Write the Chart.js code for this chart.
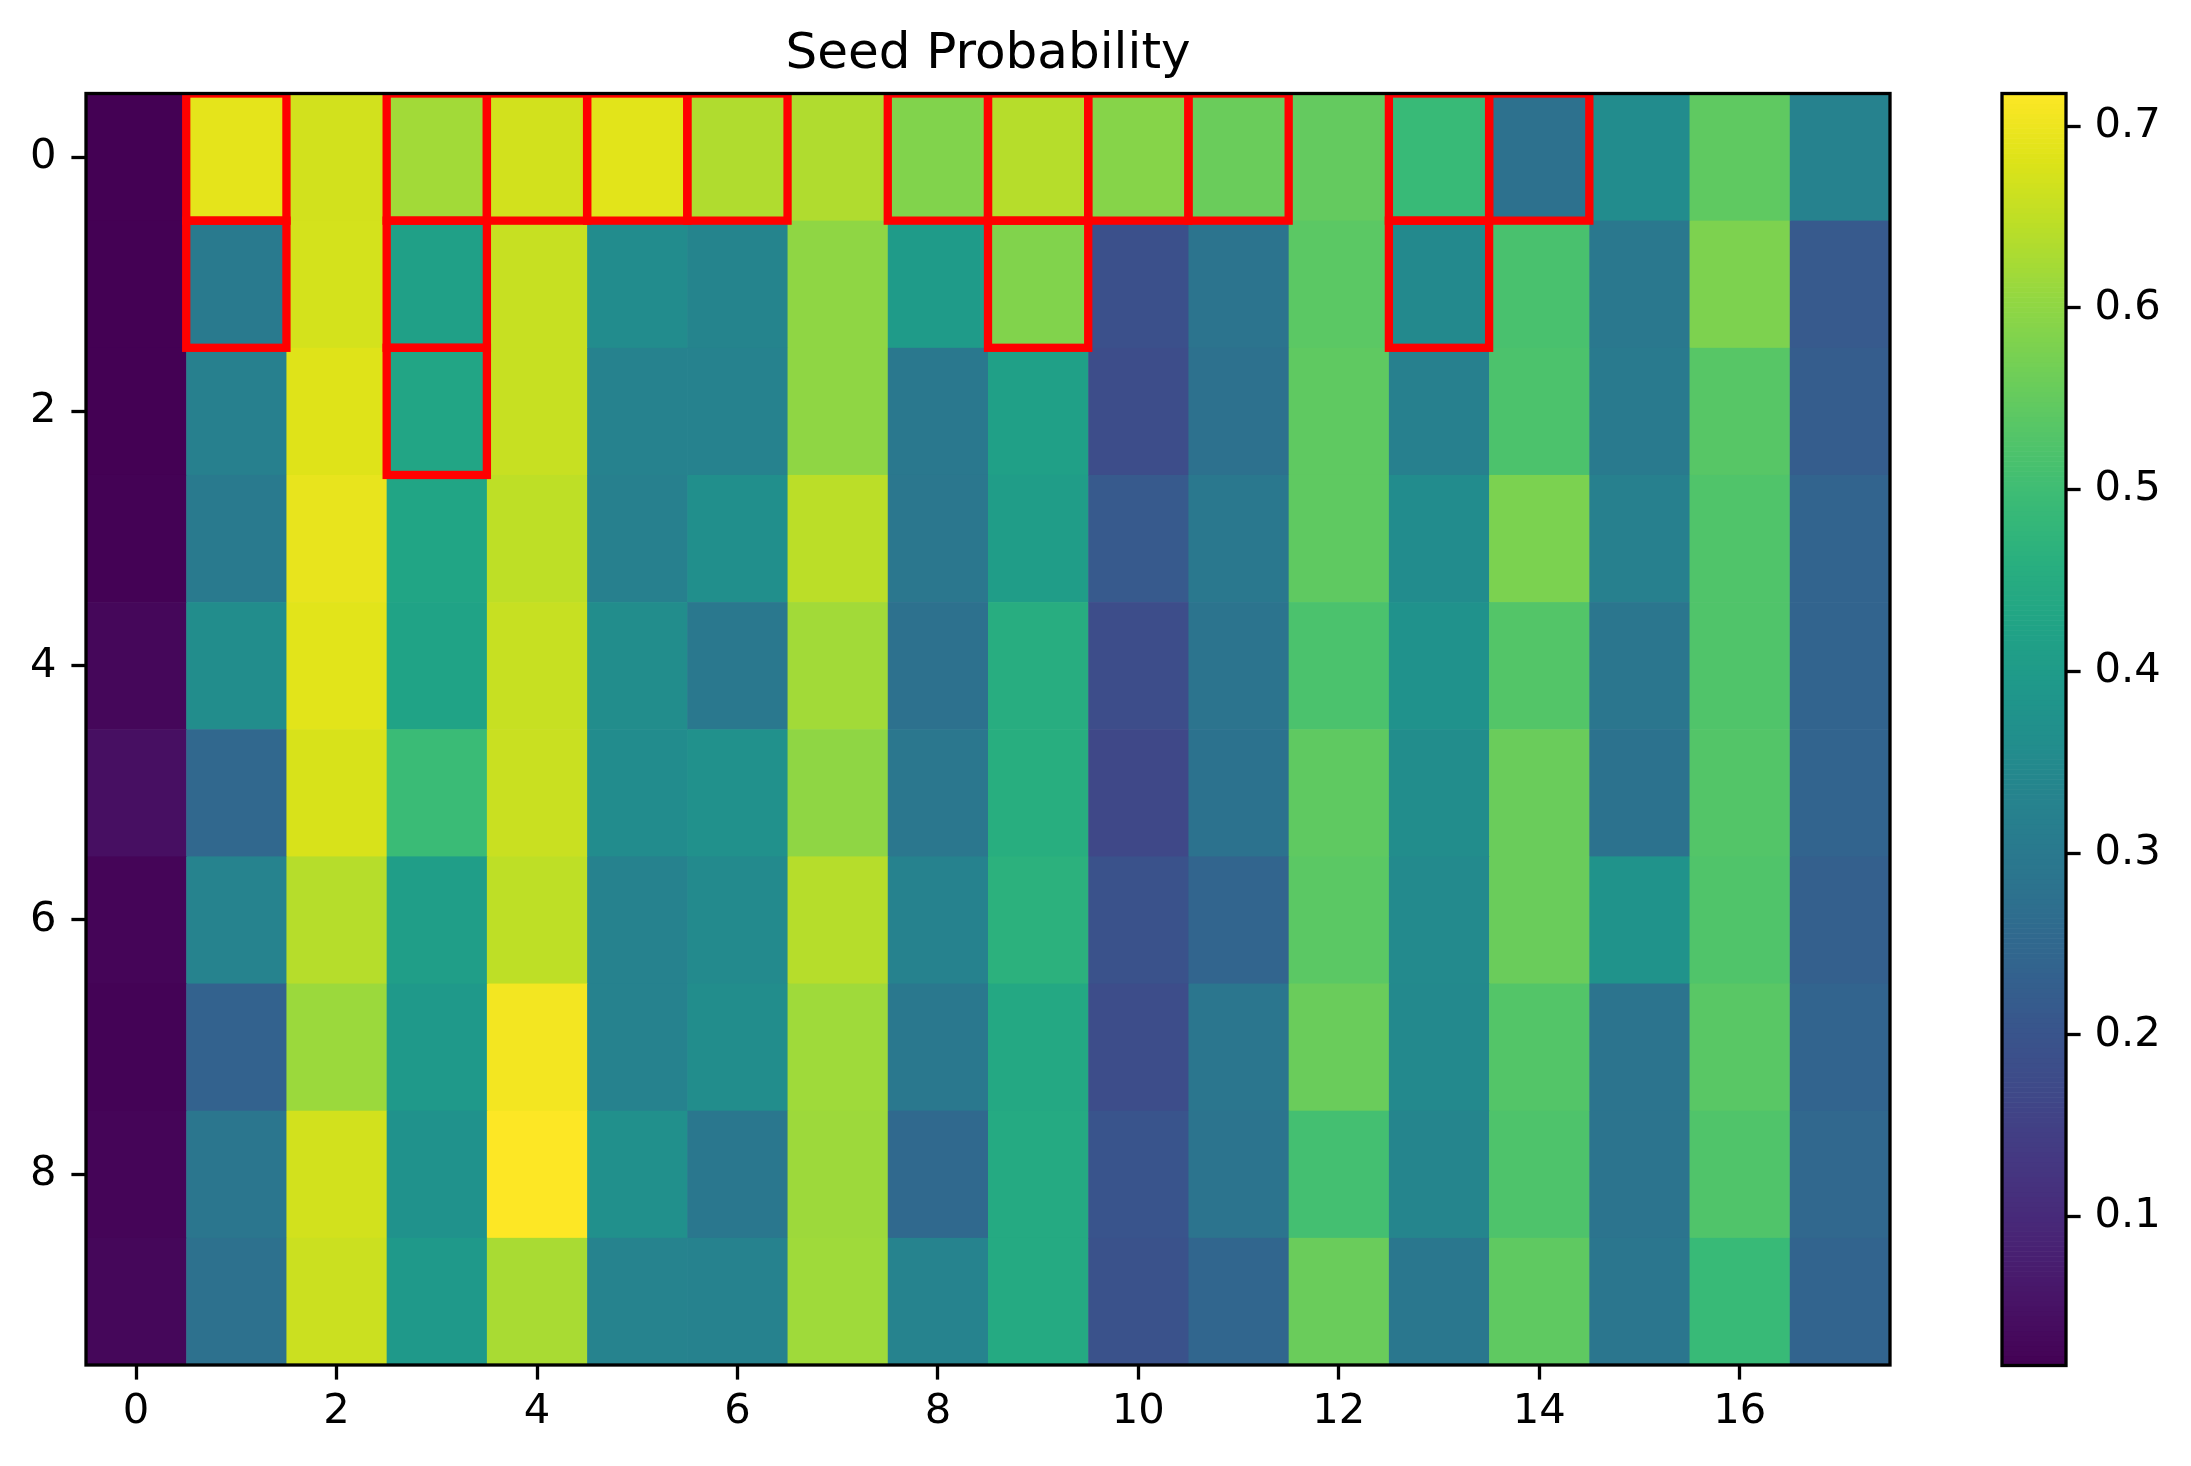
<!DOCTYPE html>
<html>
<head>
<meta charset="utf-8">
<title>Seed Probability</title>
<script src="https://cdn.jsdelivr.net/npm/chart.js@4.4.1/dist/chart.umd.min.js"></script>
<style>
  html, body { margin: 0; padding: 0; background: #fff; }
  #wrap { position: relative; width: 2191px; height: 1466px; }
  #mainBox { position: absolute; left: 0; top: 0; width: 1976px; height: 1466px; }
  #cbarBox { position: absolute; left: 1990px; top: 0; width: 201px; height: 1466px; }
</style>
</head>
<body>
<div id="wrap">
  <div id="mainBox"><canvas id="heatmap"></canvas></div>
  <div id="cbarBox"><canvas id="colorbar"></canvas></div>
</div>
<script>
// valores (linhas 0..9, colunas 0..17)
const seedProb = [
  [0.018, 0.690, 0.670, 0.620, 0.670, 0.687, 0.634, 0.634, 0.585, 0.640, 0.590, 0.557, 0.550, 0.490, 0.277, 0.355, 0.545, 0.326],
  [0.018, 0.305, 0.672, 0.414, 0.658, 0.357, 0.333, 0.600, 0.400, 0.585, 0.190, 0.284, 0.540, 0.347, 0.515, 0.298, 0.580, 0.214],
  [0.018, 0.320, 0.683, 0.430, 0.658, 0.326, 0.326, 0.600, 0.298, 0.414, 0.180, 0.277, 0.545, 0.320, 0.520, 0.305, 0.535, 0.222],
  [0.020, 0.305, 0.694, 0.428, 0.648, 0.320, 0.365, 0.645, 0.294, 0.407, 0.214, 0.298, 0.545, 0.357, 0.578, 0.322, 0.525, 0.240],
  [0.030, 0.360, 0.687, 0.424, 0.658, 0.360, 0.298, 0.620, 0.277, 0.455, 0.180, 0.284, 0.518, 0.375, 0.530, 0.290, 0.525, 0.238],
  [0.045, 0.250, 0.676, 0.494, 0.660, 0.357, 0.370, 0.600, 0.294, 0.458, 0.168, 0.280, 0.545, 0.360, 0.557, 0.280, 0.530, 0.238],
  [0.025, 0.330, 0.640, 0.410, 0.648, 0.326, 0.350, 0.640, 0.326, 0.466, 0.193, 0.242, 0.540, 0.350, 0.557, 0.378, 0.525, 0.228],
  [0.022, 0.235, 0.613, 0.396, 0.707, 0.326, 0.360, 0.617, 0.298, 0.438, 0.180, 0.290, 0.557, 0.347, 0.530, 0.285, 0.537, 0.238],
  [0.025, 0.290, 0.670, 0.375, 0.718, 0.368, 0.295, 0.615, 0.253, 0.445, 0.200, 0.284, 0.508, 0.335, 0.522, 0.285, 0.525, 0.250],
  [0.030, 0.277, 0.662, 0.396, 0.627, 0.330, 0.326, 0.617, 0.330, 0.445, 0.193, 0.245, 0.557, 0.295, 0.545, 0.290, 0.490, 0.240]
];

// células destacadas em vermelho: [linha, coluna]
const highlighted = [
  [0, 1], [1, 1],
  [0, 3], [1, 3], [2, 3],
  [0, 4], [0, 5], [0, 6],
  [0, 8], [0, 9], [1, 9],
  [0, 10], [0, 11],
  [0, 13], [1, 13], [0, 14]
];

const xTicks = [0, 2, 4, 6, 8, 10, 12, 14, 16];
const yTicks = [0, 2, 4, 6, 8];
const cbarTicks = [0.1, 0.2, 0.3, 0.4, 0.5, 0.6, 0.7];

const nRows = seedProb.length;
const nCols = seedProb[0].length;
const allVals = seedProb.flat();
const vmin = Math.min(...allVals);
const vmax = Math.max(...allVals);

// viridis (20 amostras)
const viridisHex = ['#440154', '#481467', '#482677', '#453781', '#3f4788', '#39558c', '#32648e', '#2d718e', '#287d8e', '#238a8d',
  '#1f968b', '#20a386', '#29af7f', '#3cbc75', '#56c667', '#75d054', '#95d840', '#bade28', '#dde318', '#fde725'];
const viridisRgb = viridisHex.map(h => [1, 3, 5].map(i => parseInt(h.substr(i, 2), 16)));

function viridis(t) {
  t = Math.max(0, Math.min(1, t));
  const pos = t * (viridisRgb.length - 1);
  const i = Math.min(Math.floor(pos), viridisRgb.length - 2);
  const f = pos - i;
  const a = viridisRgb[i], b = viridisRgb[i + 1];
  const c = a.map((v, k) => Math.round(v + (b[k] - v) * f));
  return `rgb(${c[0]},${c[1]},${c[2]})`;
}

const FONT = 'DejaVu Sans';
const tickFont = { family: FONT, size: 41.7 };

// desenha as células e os contornos vermelhos usando as escalas do gráfico
const heatmapPlugin = {
  id: 'heatmap',
  beforeDatasetsDraw(chart) {
    const { ctx, chartArea, scales: { x, y } } = chart;
    ctx.save();
    ctx.beginPath();
    ctx.rect(chartArea.left, chartArea.top, chartArea.right - chartArea.left, chartArea.bottom - chartArea.top);
    ctx.clip();
    chart.data.datasets[0].data.forEach(p => {
      const x0 = x.getPixelForValue(p.x - 0.5), x1 = x.getPixelForValue(p.x + 0.5);
      const y0 = y.getPixelForValue(p.y - 0.5), y1 = y.getPixelForValue(p.y + 0.5);
      ctx.fillStyle = viridis((p.v - vmin) / (vmax - vmin));
      ctx.fillRect(Math.min(x0, x1), Math.min(y0, y1), Math.abs(x1 - x0) + 0.6, Math.abs(y1 - y0) + 0.6);
    });
    ctx.strokeStyle = '#ff0000';
    ctx.lineWidth = 8.3;
    highlighted.forEach(([r, c]) => {
      const x0 = x.getPixelForValue(c - 0.5), x1 = x.getPixelForValue(c + 0.5);
      const y0 = y.getPixelForValue(r - 0.5), y1 = y.getPixelForValue(r + 0.5);
      ctx.strokeRect(x0, Math.min(y0, y1), x1 - x0, Math.abs(y1 - y0));
    });
    ctx.restore();
  },
  afterDraw(chart) {
    const { ctx, chartArea } = chart;
    ctx.save();
    ctx.strokeStyle = '#000';
    ctx.lineWidth = 3.3;
    ctx.strokeRect(chartArea.left, chartArea.top, chartArea.right - chartArea.left, chartArea.bottom - chartArea.top);
    ctx.restore();
  }
};

const cells = [];
seedProb.forEach((row, r) => row.forEach((v, c) => cells.push({ x: c, y: r, v: v })));

const axisGrid = { display: true, drawOnChartArea: false, drawTicks: true, tickLength: 14.6, tickWidth: 3.3, tickColor: '#000' };

new Chart(document.getElementById('heatmap').getContext('2d'), {
  type: 'scatter',
  data: { datasets: [{ data: cells, pointRadius: 0, pointHoverRadius: 0 }] },
  options: {
    animation: false,
    responsive: true,
    maintainAspectRatio: false,
    devicePixelRatio: 1,
    layout: { padding: 0 },
    plugins: {
      legend: { display: false },
      tooltip: { enabled: false },
      title: {
        display: true,
        text: 'Seed Probability',
        color: '#000',
        font: { family: FONT, size: 50, weight: 'normal' },
        padding: { top: 25, bottom: 8.5 }
      }
    },
    scales: {
      x: {
        type: 'linear',
        min: -0.5,
        max: nCols - 0.5,
        afterBuildTicks: s => { s.ticks = xTicks.map(v => ({ value: v })); },
        afterFit: s => { s.height = 101; },
        grid: axisGrid,
        border: { display: false },
        ticks: { color: '#000', font: tickFont, padding: 8, maxRotation: 0, callback: v => String(v) }
      },
      y: {
        type: 'linear',
        reverse: true,
        min: -0.5,
        max: nRows - 0.5,
        afterBuildTicks: s => { s.ticks = yTicks.map(v => ({ value: v })); },
        afterFit: s => { s.width = 86; },
        grid: axisGrid,
        border: { display: false },
        ticks: { color: '#000', font: tickFont, padding: 15, callback: v => String(v) }
      },
      // espaço vazio à direita para centralizar o título sobre o gráfico
      yRight: {
        type: 'linear',
        position: 'right',
        min: 0,
        max: 1,
        afterFit: s => { s.width = 86; },
        grid: { display: false },
        border: { display: false },
        ticks: { display: false }
      }
    }
  },
  plugins: [heatmapPlugin]
});

// barra de cores
const colorbarPlugin = {
  id: 'colorbar',
  beforeDatasetsDraw(chart) {
    const { ctx, chartArea, scales: { y } } = chart;
    const steps = 256;
    ctx.save();
    for (let i = 0; i < steps; i++) {
      const v0 = vmin + (vmax - vmin) * i / steps;
      const v1 = vmin + (vmax - vmin) * (i + 1) / steps;
      const p0 = y.getPixelForValue(v0), p1 = y.getPixelForValue(v1);
      ctx.fillStyle = viridis((i + 0.5) / steps);
      ctx.fillRect(chartArea.left, p1, chartArea.right - chartArea.left, p0 - p1 + 0.6);
    }
    ctx.strokeStyle = '#000';
    ctx.lineWidth = 3.3;
    ctx.strokeRect(chartArea.left, chartArea.top, chartArea.right - chartArea.left, chartArea.bottom - chartArea.top);
    ctx.restore();
  }
};

new Chart(document.getElementById('colorbar').getContext('2d'), {
  type: 'scatter',
  data: { datasets: [{ data: [], pointRadius: 0 }] },
  options: {
    animation: false,
    responsive: true,
    maintainAspectRatio: false,
    devicePixelRatio: 1,
    layout: { padding: { left: 12, right: 0, top: 93.5, bottom: 100.5 } },
    plugins: { legend: { display: false }, tooltip: { enabled: false } },
    scales: {
      x: { display: false, min: 0, max: 1 },
      y: {
        type: 'linear',
        position: 'right',
        min: vmin,
        max: vmax,
        afterBuildTicks: s => { s.ticks = cbarTicks.map(v => ({ value: v })); },
        afterFit: s => { s.width = 125; },
        grid: axisGrid,
        border: { display: false },
        ticks: { color: '#000', font: tickFont, padding: 14, callback: v => v.toFixed(1) }
      }
    }
  },
  plugins: [colorbarPlugin]
});
</script>
</body>
</html>
